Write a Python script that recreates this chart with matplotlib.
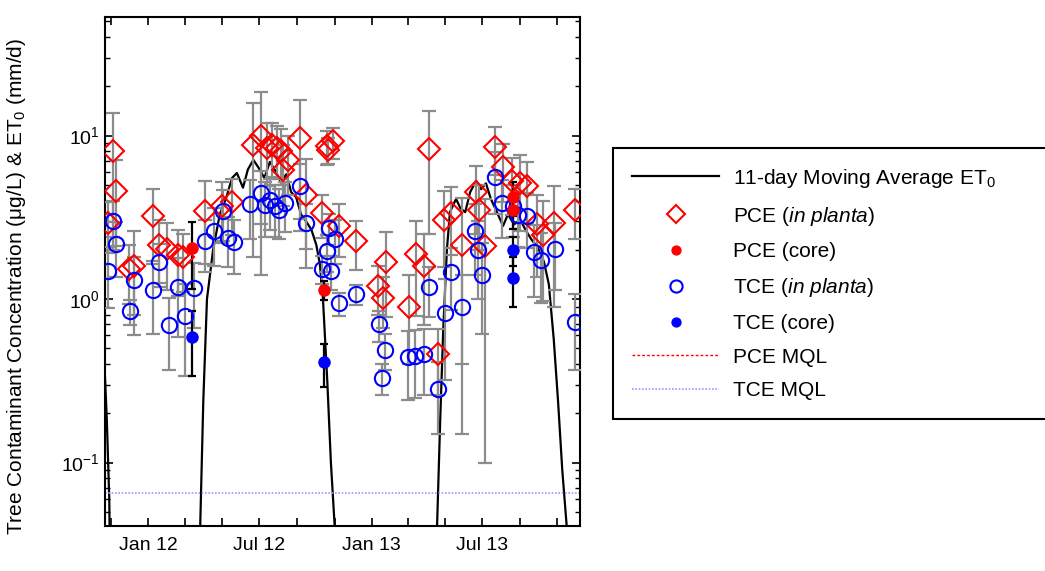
import matplotlib
matplotlib.use("Agg")
import matplotlib.pyplot as plt
import matplotlib.dates as mdates
import matplotlib.ticker as mticker
import pandas as pd

plt.rcParams['font.family'] = ['Liberation Sans', 'DejaVu Sans']
plt.rcParams['mathtext.fontset'] = 'custom'
plt.rcParams['mathtext.rm'] = 'Liberation Sans'
plt.rcParams['mathtext.it'] = 'Liberation Sans:italic'
plt.rcParams['mathtext.bf'] = 'Liberation Sans:bold'

# 11-day moving average ET0 (mm/d)
et_dates = ['2011-10-20', '2011-10-25', '2011-10-29', '2011-10-31', '2012-03-22', '2012-03-26',
            '2012-03-31', '2012-04-06', '2012-04-16', '2012-04-27', '2012-05-07', '2012-05-17',
            '2012-05-25', '2012-06-04', '2012-06-12', '2012-06-21', '2012-06-29', '2012-07-09',
            '2012-07-18', '2012-07-28', '2012-08-05', '2012-08-14', '2012-08-22', '2012-08-30',
            '2012-09-07', '2012-09-15', '2012-09-24', '2012-10-02', '2012-10-08', '2012-10-13',
            '2012-10-20', '2012-10-26', '2012-11-01', '2012-11-03', '2013-04-16', '2013-04-18',
            '2013-04-23', '2013-04-28', '2013-05-04', '2013-05-09', '2013-05-19', '2013-05-26',
            '2013-06-03', '2013-06-11', '2013-06-21', '2013-06-29', '2013-07-07', '2013-07-15',
            '2013-07-25', '2013-08-04', '2013-08-12', '2013-08-22', '2013-09-01', '2013-09-11',
            '2013-09-20', '2013-09-30', '2013-10-10', '2013-10-18', '2013-10-26', '2013-11-02',
            '2013-11-09', '2013-11-16', '2013-11-18', '2013-12-15']
et_vals = [0.5, 0.18, 0.059, 0.01, 0.01, 0.042,
           0.24, 1.0, 2.0, 3.3, 4.1, 5.5,
           5.9, 4.8, 6.2, 7.1, 6.4, 5.5,
           6.9, 6.0, 5.2, 5.8, 4.5, 4.2,
           3.3, 3.0, 2.66, 2.15, 1.63, 1.0,
           0.32, 0.10, 0.042, 0.01, 0.01, 0.042,
           0.18, 0.65, 2.0, 3.4, 4.1, 3.6,
           3.4, 4.5, 5.3, 4.7, 5.1, 4.1,
           3.4, 2.8, 3.3, 2.86, 3.06, 2.6,
           2.3, 2.07, 1.69, 1.23, 0.57, 0.24,
           0.09, 0.042, 0.01, 0.01]

# PCE in planta (ug/L) and error
pce_dates = ['2011-10-27', '2011-11-04', '2011-11-09', '2011-11-30', '2011-12-08', '2012-01-08',
             '2012-01-19', '2012-01-31', '2012-02-19', '2012-02-27', '2012-04-03', '2012-04-30',
             '2012-05-17', '2012-06-21', '2012-07-04', '2012-07-13', '2012-07-22', '2012-07-29',
             '2012-08-05', '2012-08-08', '2012-08-17', '2012-09-06', '2012-09-16', '2012-10-11',
             '2012-10-19', '2012-10-22', '2012-10-29', '2012-11-09', '2012-12-06', '2013-01-11',
             '2013-01-19', '2013-01-25', '2013-03-03', '2013-03-14', '2013-03-27', '2013-04-04',
             '2013-04-20', '2013-04-29', '2013-05-11', '2013-05-29', '2013-06-20', '2013-06-26',
             '2013-07-05', '2013-07-22', '2013-08-04', '2013-08-18', '2013-08-31', '2013-09-12',
             '2013-09-28', '2013-10-08', '2013-10-27', '2013-11-30']
pce_vals = [2.9, 8.1, 4.6, 1.53, 1.6, 3.2,
            2.15, 2.03, 1.85, 1.8, 3.45, 3.7,
            3.95, 8.8, 9.9, 8.4, 8.8, 8.4,
            8.0, 6.2, 7.1, 9.6, 4.35, 3.35,
            8.6, 8.2, 9.2, 2.8, 2.26, 1.2,
            1.02, 1.68, 0.9, 1.89, 1.59, 8.3,
            0.46, 3.06, 3.37, 2.15, 4.5, 3.5,
            2.1, 8.5, 6.4, 5.25, 5.1, 4.9,
            2.86, 2.48, 2.9, 3.53]
pce_err = [1.0, 5.7, 2.5, 0.6, 1.0, 1.5,
           0.9, 0.9, 0.8, 0.7, 1.8, 1.5,
           1.5, 7.0, 8.5, 3.5, 3.2, 3.0,
           3.0, 2.5, 2.8, 7.0, 2.8, 1.0,
           2.0, 1.5, 2.0, 1.0, 0.75, 0.4,
           0.35, 0.9, 0.5, 1.1, 0.9, 5.8,
           0.2, 1.5, 1.5, 2.0, 2.0, 1.5,
           2.0, 2.8, 2.5, 2.0, 2.5, 2.0,
           1.5, 1.5, 2.0, 1.2]

# PCE core
pcec_dates = ['2012-03-13', '2012-10-15', '2013-08-21', '2013-08-21']
pcec_vals = [2.06, 1.14, 4.2, 3.5]
pcec_err = [0.9, 0.15, 1.0, 0.8]

# TCE in planta
tce_dates = ['2011-10-27', '2011-11-04', '2011-11-09', '2011-12-02', '2011-12-08', '2012-01-09',
             '2012-01-19', '2012-02-03', '2012-02-19', '2012-03-01', '2012-03-16', '2012-04-03',
             '2012-04-18', '2012-05-03', '2012-05-11', '2012-05-21', '2012-06-16', '2012-07-04',
             '2012-07-10', '2012-07-18', '2012-07-26', '2012-08-02', '2012-08-12', '2012-09-06',
             '2012-09-16', '2012-10-11', '2012-10-19', '2012-10-23', '2012-10-26', '2012-11-02',
             '2012-11-09', '2012-12-06', '2013-01-12', '2013-01-17', '2013-01-23', '2013-03-02',
             '2013-03-13', '2013-03-27', '2013-04-04', '2013-04-20', '2013-05-01', '2013-05-11',
             '2013-05-29', '2013-06-19', '2013-06-24', '2013-06-30', '2013-07-22', '2013-08-02',
             '2013-08-20', '2013-08-29', '2013-09-12', '2013-09-23', '2013-10-05', '2013-10-28',
             '2013-11-30']
tce_vals = [1.48, 3.0, 2.17, 0.84, 1.3, 1.13,
            1.68, 0.69, 1.19, 0.79, 1.17, 2.26,
            2.6, 3.45, 2.37, 2.23, 3.84, 4.46,
            3.78, 4.06, 3.7, 3.53, 3.87, 4.9,
            2.93, 1.53, 1.96, 2.73, 1.48, 2.33,
            0.94, 1.07, 0.7, 0.33, 0.49, 0.44,
            0.45, 0.46, 1.18, 0.28, 0.82, 1.46,
            0.9, 2.6, 2.0, 1.41, 5.6, 3.87,
            3.7, 3.29, 3.24, 1.93, 1.74, 2.03,
            0.72]
tce_err = [0.6, 1.0, 0.8, 0.15, 0.5, 0.52,
           0.5, 0.32, 0.6, 0.45, 0.5, 0.8,
           1.0, 1.2, 0.8, 0.8, 1.5, 1.6,
           1.4, 1.4, 1.3, 1.2, 1.3, 1.8,
           0.9, 0.3, 0.5, 0.6, 0.35, 0.7,
           0.15, 0.15, 0.15, 0.07, 0.12, 0.2,
           0.2, 0.2, 0.4, 0.13, 0.5, 0.6,
           0.5, 1.2, 1.0, 0.8, 2.3, 1.5,
           1.3, 1.2, 1.2, 0.9, 0.8, 0.9,
           0.35]

# TCE core
tcec_dates = ['2012-03-13', '2012-10-15', '2013-08-21', '2013-08-21']
tcec_vals = [0.59, 0.41, 1.99, 1.35]
tcec_err = [0.25, 0.12, 0.4, 0.45]

pce_mql = 0.03
tce_mql = 0.065

xlim = ['2011-10-22', '2013-12-08']

fig = plt.figure(figsize=(10.45, 5.71), dpi=100)
ax = fig.add_axes([0.1005, 0.079, 0.4545, 0.891])

ed = pd.to_datetime(et_dates)
l_et, = ax.plot(ed, et_vals, color='black', lw=1.6, zorder=2)

gray = '#8c8c8c'
ax.errorbar(pd.to_datetime(pce_dates), pce_vals, yerr=pce_err, fmt='none', ecolor=gray,
            elinewidth=1.6, capsize=5, capthick=1.6, zorder=3)
ax.errorbar(pd.to_datetime(tce_dates), tce_vals, yerr=tce_err, fmt='none', ecolor=gray,
            elinewidth=1.6, capsize=5, capthick=1.6, zorder=3)
ax.errorbar(pd.to_datetime(pcec_dates), pcec_vals, yerr=pcec_err, fmt='none', ecolor='black',
            elinewidth=1.6, capsize=3, capthick=1.6, zorder=3)
ax.errorbar(pd.to_datetime(tcec_dates), tcec_vals, yerr=tcec_err, fmt='none', ecolor='black',
            elinewidth=1.6, capsize=3, capthick=1.6, zorder=3)

l_pce, = ax.plot(pd.to_datetime(pce_dates), pce_vals, ls='none', marker='D', ms=11,
                 mfc='none', mec='#ff0000', mew=1.5, zorder=4)
l_pcec, = ax.plot(pd.to_datetime(pcec_dates), pcec_vals, ls='none', marker='o', ms=8,
                  mfc='#ff0000', mec='#ff0000', zorder=5)
l_tce, = ax.plot(pd.to_datetime(tce_dates), tce_vals, ls='none', marker='o', ms=11,
                 mfc='none', mec='#0000ff', mew=1.5, zorder=4)
l_tcec, = ax.plot(pd.to_datetime(tcec_dates), tcec_vals, ls='none', marker='o', ms=8,
                  mfc='#0000ff', mec='#0000ff', zorder=5)

l_pm = ax.axhline(pce_mql, color='#ff0000', ls=(0, (2, 1.5)), lw=1)
l_tm = ax.axhline(tce_mql, color='#9999ff', ls=(0, (1, 1)), lw=1.2)

ax.set_yscale('log')
ax.set_ylim(0.041, 53)
ax.set_xlim(pd.to_datetime(xlim[0]), pd.to_datetime(xlim[1]))

ax.xaxis.set_major_locator(mdates.MonthLocator(bymonth=[1, 3, 5, 7, 9, 11]))


def month_fmt(x, pos):
    d = mdates.num2date(x)
    if d.month in (1, 7):
        return d.strftime('%b %y')
    return ''


ax.xaxis.set_major_formatter(mticker.FuncFormatter(month_fmt))
ax.tick_params(which='both', direction='in', top=True, right=True, labelsize=14)
ax.tick_params(which='major', length=6, width=1.2)
ax.tick_params(which='minor', length=3.5, width=1)
ax.tick_params(axis='x', pad=8)
for s in ax.spines.values():
    s.set_linewidth(1.5)

ax.set_ylabel('Tree Contaminant Concentration (μg/L) & ET$_0$ (mm/d)', fontsize=15)
ax.yaxis.set_label_coords(-0.162, 0.47)

labels = ['11-day Moving Average ET$_0$', 'PCE ($\\mathit{in\\ planta}$)', 'PCE (core)',
          'TCE ($\\mathit{in\\ planta}$)', 'TCE (core)', 'PCE MQL', 'TCE MQL']
leg = fig.legend([l_et, l_pce, l_pcec, l_tce, l_tcec, l_pm, l_tm], labels,
                 loc='upper left', bbox_to_anchor=(613 / 1045, 1 - 148 / 571 - 0.1, 0.45, 0.1),
                 mode='expand', fontsize=15, frameon=True, fancybox=False, markerscale=0.8,
                 edgecolor='black', framealpha=1, borderpad=0.9, labelspacing=0.71,
                 handlelength=4.2, handletextpad=0.67, borderaxespad=0)
leg.get_frame().set_linewidth(1.5)

fig.savefig('out.png', dpi=100)
